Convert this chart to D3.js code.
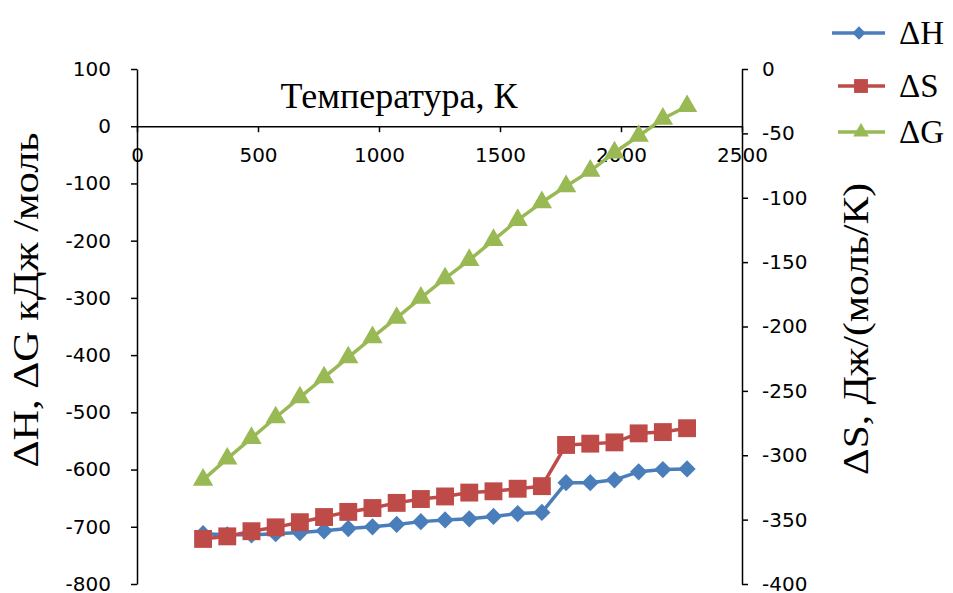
<!DOCTYPE html>
<html>
<head>
<meta charset="utf-8">
<script src="https://cdn.jsdelivr.net/npm/d3@7"></script>
<style>
  html, body { margin: 0; padding: 0; background: #fff; }
  svg { display: block; }
</style>
</head>
<body>
<svg id="chart" width="953" height="593"></svg>
<script>
// ---- data ----
const temperature = [273, 373, 473, 573, 673, 773, 873, 973, 1073, 1173, 1273, 1373, 1473, 1573, 1673, 1773, 1873, 1973, 2073, 2173, 2273];
const deltaH = [-712, -714, -714, -712, -710, -707, -703, -700, -696, -691, -688, -686, -682, -677, -675, -623, -623, -618, -604, -600, -599];
const deltaS = [-365, -363, -359, -356, -352, -348, -344, -341, -337, -334, -332, -329, -328, -326, -324, -292, -291, -290, -283, -282, -279];
const deltaG = [-618, -581, -545, -509, -474, -439, -404, -369, -335, -300, -266, -234, -199, -164, -133, -105, -78, -46, -17, 13, 35];

const xTicks = [0, 500, 1000, 1500, 2000, 2500];
const leftTicks = [100, 0, -100, -200, -300, -400, -500, -600, -700, -800];
const rightTicks = [0, -50, -100, -150, -200, -250, -300, -350, -400];

const seriesNames = ["\u0394H", "\u0394S", "\u0394G"];
const xTitle = "Температура, К";
const leftTitle = "\u0394H, \u0394G кДж /моль";
const rightTitle = "\u0394S, Дж/(моль/К)";

// ---- layout ----
const colors = { H: "#4a7ebb", S: "#be4b48", G: "#98b954" };
const svg = d3.select("#chart");
const plotL = 137, plotR = 742, plotT = 69, plotB = 584;

const x = d3.scaleLinear().domain([0, 2500]).range([plotL, plotR]);
const yL = d3.scaleLinear().domain([-800, 100]).range([plotB, plotT]);
const yR = d3.scaleLinear().domain([-400, 0]).range([plotB, plotT]);

const sans = "DejaVu Sans, Verdana, sans-serif";
const serif = "Liberation Serif, Times New Roman, serif";

function styleAxis(g) {
  g.attr("font-size", 20).attr("font-family", sans);
  g.select(".domain").attr("stroke", "#000").attr("stroke-width", 1.5);
  g.selectAll(".tick line").attr("stroke", "#000").attr("stroke-width", 1.5);
  g.selectAll(".tick text").attr("fill", "#000").attr("font-size", 20);
}

// x axis at y = 0 of the left scale
const gx = svg.append("g")
  .attr("transform", `translate(0,${yL(0)})`)
  .call(d3.axisBottom(x).tickValues(xTicks).tickSize(6).tickSizeOuter(0).tickPadding(16).tickFormat(d3.format("d")));
styleAxis(gx);

const gl = svg.append("g")
  .attr("transform", `translate(${plotL},0)`)
  .call(d3.axisLeft(yL).tickValues(leftTicks).tickSize(6).tickSizeOuter(0).tickPadding(20).tickFormat(d => String(d)));
styleAxis(gl);

const gr = svg.append("g")
  .attr("transform", `translate(${plotR},0)`)
  .call(d3.axisRight(yR).tickValues(rightTicks).tickSize(6).tickSizeOuter(0).tickPadding(14).tickFormat(d => String(d)));
styleAxis(gr);

// titles
svg.append("text")
  .attr("x", 399).attr("y", 108)
  .attr("text-anchor", "middle")
  .attr("font-family", serif)
  .attr("font-size", 36)
  .text(xTitle);

svg.append("text")
  .attr("transform", `translate(38,300) rotate(-90)`)
  .attr("text-anchor", "middle")
  .attr("textLength", 335)
  .attr("lengthAdjust", "spacingAndGlyphs")
  .attr("font-family", serif)
  .attr("font-size", 36)
  .text(leftTitle);

svg.append("text")
  .attr("transform", `translate(868,329) rotate(-90)`)
  .attr("text-anchor", "middle")
  .attr("textLength", 292)
  .attr("lengthAdjust", "spacingAndGlyphs")
  .attr("font-family", serif)
  .attr("font-size", 35)
  .text(rightTitle);

// series
const series = [
  { key: "H", values: deltaH, y: yL, symbol: d3.symbolDiamond2, size: 190 },
  { key: "S", values: deltaS, y: yR, symbol: d3.symbolSquare, size: 320 },
  { key: "G", values: deltaG, y: yL, symbol: d3.symbolTriangle, size: 180 }
];

series.forEach(s => {
  const pts = temperature.map((t, i) => [x(t), s.y(s.values[i])]);
  svg.append("path")
    .attr("d", d3.line()(pts))
    .attr("fill", "none")
    .attr("stroke", colors[s.key])
    .attr("stroke-width", 3.5)
    .attr("stroke-linejoin", "round");
  svg.append("g").selectAll("path")
    .data(pts)
    .join("path")
    .attr("transform", d => `translate(${d[0]},${d[1]})`)
    .attr("d", d3.symbol().type(s.symbol).size(s.size))
    .attr("fill", colors[s.key]);
});

// legend
const legendY = [33, 86, 132];
series.forEach((s, i) => {
  const g = svg.append("g").attr("transform", `translate(0,${legendY[i]})`);
  const x0 = i === 0 ? 832 : 838;
  g.append("line").attr("x1", x0).attr("x2", 885).attr("y1", 0).attr("y2", 0)
    .attr("stroke", colors[s.key]).attr("stroke-width", 3.5);
  g.append("path").attr("transform", `translate(${i === 0 ? 859 : 861},0)`)
    .attr("d", d3.symbol().type(s.symbol).size(s.size * 0.6))
    .attr("fill", colors[s.key]);
  g.append("text").attr("x", 899).attr("y", 11)
    .attr("font-family", serif)
    .attr("font-size", 33)
    .text(seriesNames[i]);
});
</script>
</body>
</html>
